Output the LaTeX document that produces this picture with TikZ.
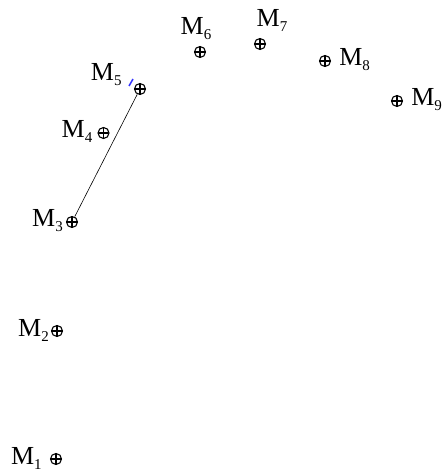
\documentclass[tikz,border=0pt]{standalone}
\usepackage{fontspec}
\setmainfont{Liberation Serif}
\usetikzlibrary{positioning}
\newcommand{\mlab}[1]{M\raisebox{-5pt}{\fontsize{15}{15}\selectfont #1}}
\tikzset{every label/.style={font=\fontsize{26}{28}\selectfont, inner sep=1pt}}

\begin{document}
\begin{tikzpicture}[x=1pt, y=1pt, pnt/.style={circle, draw, line width=1.1pt, inner sep=0pt, minimum size=11pt,
    path picture={\draw[line width=1.1pt] (path picture bounding box.north) -- (path picture bounding box.south)
      (path picture bounding box.west) -- (path picture bounding box.east);}}]

    \useasboundingbox (0,0) rectangle (446,471);

    % Points
    \node[pnt] (m1) at (56,12) [label={[xshift=-7pt, yshift=1pt]left:\mlab{1}}] {};
    \node[pnt] (m2) at (57,140) [label={[xshift=-1pt, yshift=1pt]left:\mlab{2}}] {};
    \node[pnt] (m3) at (72,249) [label={[xshift=-2pt, yshift=1pt]left:\mlab{3}}] {};
    \node[pnt] (m4) at (103.5,338) [label={[xshift=-4pt, yshift=2pt]left:\mlab{4}}] {};
    \node[pnt] (m5) at (140,382) [label={[xshift=-13pt, yshift=-2pt]above left:\mlab{5}}] {};
    \node[pnt] (m6) at (200,419) [label={[xshift=-4pt, yshift=5pt]above:\mlab{6}}] {};
    \node[pnt] (m7) at (260,427) [label={[xshift=12pt, yshift=5pt]above:\mlab{7}}] {};
    \node[pnt] (m8) at (325,410) [label={[xshift=7pt, yshift=1pt]right:\mlab{8}}] {};
    \node[pnt] (m9) at (397,370) [label={[xshift=7pt, yshift=1pt]right:\mlab{9}}] {};

    % Line
    \draw[line width=0.6pt] (m3) -- (m5);
    \coordinate (b1) at (129,385);
    \coordinate (b2) at (133,392);
    \draw[blue!80!white, line width=1.5pt] (b1) -- (b2);

\end{tikzpicture}
\end{document}
